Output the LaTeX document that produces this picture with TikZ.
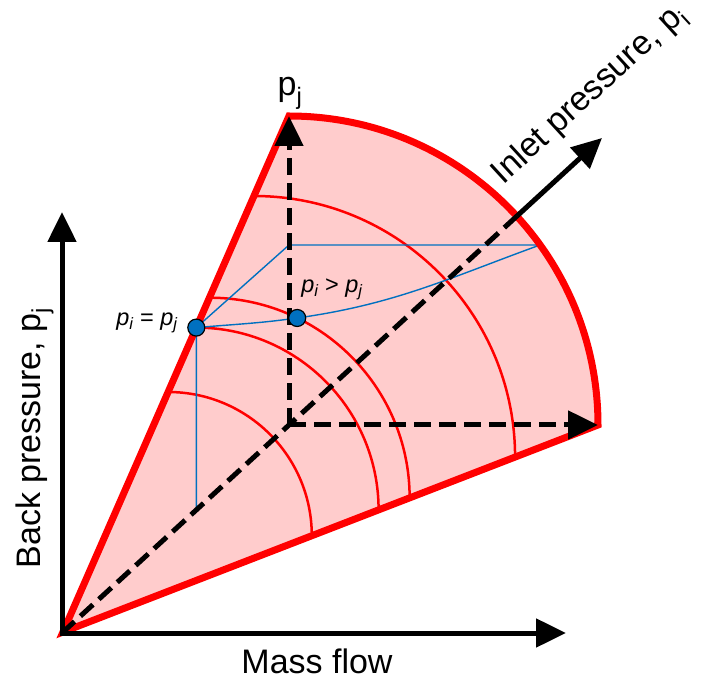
\documentclass[tikz,border=0pt]{standalone}
\usepackage{fontspec}
\setmainfont{Liberation Sans}
\usetikzlibrary{arrows.meta,calc}
\definecolor{sectorfill}{RGB}{255,204,204}
\definecolor{dotblue}{RGB}{0,112,192}
\begin{document}
\begin{tikzpicture}[x=1pt,y=1pt,
  edge/.style={red, line width=7pt, line join=miter},
  level/.style={red, line width=2.5pt},
  blueline/.style={dotblue, line width=1.4pt},
  bigtip/.style={-{Triangle[length=30pt,width=28pt]}},
  dashaxis/.style={line width=5pt, dash pattern=on 17pt off 8pt, bigtip},
  dot/.style={circle, fill=dotblue, draw=black, line width=1.2pt, minimum size=17pt, inner sep=0pt},
  biglabel/.style={font=\fontsize{34}{40}\selectfont, inner sep=0pt},
  smalllabel/.style={font=\fontsize{23.5}{27}\selectfont\itshape, inner sep=0pt}]
\useasboundingbox (0,0) rectangle (705,681);
% key points
\coordinate (O) at (62,48);
\coordinate (Or) at (63,49);
\coordinate (C) at (289,256);
\coordinate (A) at (289,565);
\coordinate (B) at (598,256);
\coordinate (X) at (516.8,464.8);
\coordinate (T) at (602,543);
\coordinate (Vtip) at (62,469);
\coordinate (Htip) at (566,48);
% sector
\fill[sectorfill] (Or) -- (A) arc[start angle=90,end angle=0,radius=309] -- cycle;
% inner arcs
\coordinate (c1) at (253.97,223.9);
\coordinate (c2) at (209.45,183.1);
\coordinate (c3) at (196.3,171.1);
\coordinate (c4) at (168.1,145.3);
\draw[level] (c1) ++(90:261.1) arc[start angle=90,end angle=0,radius=261.1];
\draw[level] (c2) ++(90:200.2) arc[start angle=90,end angle=0,radius=200.2];
\draw[level] (c3) ++(90:182.3) arc[start angle=90,end angle=0,radius=182.3];
\draw[level] (c4) ++(90:143.7) arc[start angle=90,end angle=0,radius=143.7];
% blue lines
\coordinate (D1) at (196.3,353.4);
\coordinate (D2) at (297.2,363.0);
\coordinate (P) at (289,436);
\coordinate (E) at (540,436);
\coordinate (F) at (196.3,171.2);
\draw[blueline] (F) -- (D1) -- (P) -- (E);
\draw[blueline] (D1) to[out=5,in=188] (D2) to[out=8,in=200] (E);
% sector outline
\draw[edge] (Or) -- (A) arc[start angle=90,end angle=0,radius=309] -- cycle;
% black dashed axes
\draw[line width=5pt, dash pattern=on 17pt off 8pt] (O) -- (X);
\draw[line width=5pt, bigtip] (X) -- (T);
\draw[dashaxis] (C) -- (A);
\draw[dashaxis] (C) -- (B);
% main axes
\draw[line width=5pt, {Triangle[length=30pt,width=28pt]}-{Triangle[length=30pt,width=28pt]}] (Vtip) -- (O) -- (Htip);
% dots
\node[dot] (d1) at (D1) {};
\node[dot] (d2) at (D2) {};
% labels
\node[biglabel, anchor=base] (mf) at (317,8) {Mass flow};
\node[biglabel, anchor=base, rotate=90] (bp) at (40,243) {Back pressure, p\textsubscript{j}};
\node[biglabel, rotate=42.5] (ip) at (590,586) {Inlet pressure, p\textsubscript{i}};
\node[biglabel, anchor=base] (pj) at (290,585) {p\textsubscript{j}};
\node[smalllabel] (eq) at (147,358) {p\textsubscript{i} {\upshape =} p\textsubscript{j}};
\node[smalllabel] (gt) at (332,392) {p\textsubscript{i} {\upshape >} p\textsubscript{j}};
\end{tikzpicture}
\end{document}
